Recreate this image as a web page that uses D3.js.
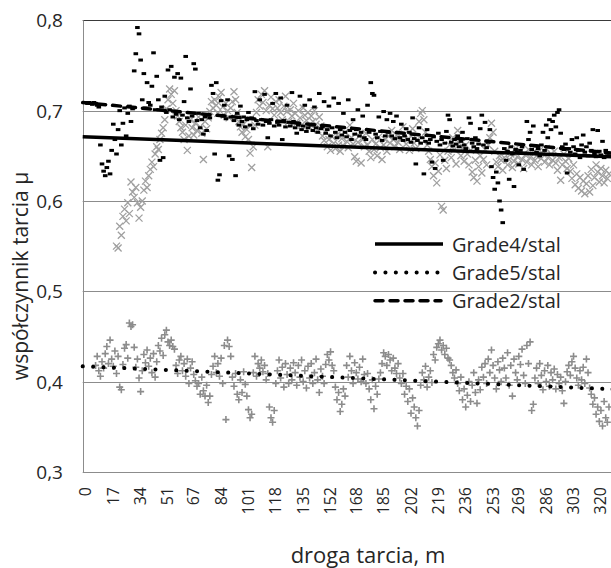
<!DOCTYPE html>
<html>
<head>
<meta charset="utf-8">
<script src="https://cdn.jsdelivr.net/npm/d3@7"></script>
<style>
  body { margin: 0; background: #fff; }
  text { font-family: "Open Sans", sans-serif; fill: #262626; }
</style>
</head>
<body>
<div id="chart"></div>
<script>
// droga tarcia [m], one sample per metre
var droga = [
  0,1,2,3,4,5,6,7,8,9,10,11,12,13,14,15,16,17,18,19,20,21,22,23,24,25,26,27,28,29,
  30,31,32,33,34,35,36,37,38,39,40,41,42,43,44,45,46,47,48,49,50,51,52,53,54,55,56,57,58,59,
  60,61,62,63,64,65,66,67,68,69,70,71,72,73,74,75,76,77,78,79,80,81,82,83,84,85,86,87,88,89,
  90,91,92,93,94,95,96,97,98,99,100,101,102,103,104,105,106,107,108,109,110,111,112,113,114,115,116,117,118,119,
  120,121,122,123,124,125,126,127,128,129,130,131,132,133,134,135,136,137,138,139,140,141,142,143,144,145,146,147,148,149,
  150,151,152,153,154,155,156,157,158,159,160,161,162,163,164,165,166,167,168,169,170,171,172,173,174,175,176,177,178,179,
  180,181,182,183,184,185,186,187,188,189,190,191,192,193,194,195,196,197,198,199,200,201,202,203,204,205,206,207,208,209,
  210,211,212,213,214,215,216,217,218,219,220,221,222,223,224,225,226,227,228,229,230,231,232,233,234,235,236,237,238,239,
  240,241,242,243,244,245,246,247,248,249,250,251,252,253,254,255,256,257,258,259,260,261,262,263,264,265,266,267,268,269,
  270,271,272,273,274,275,276,277,278,279,280,281,282,283,284,285,286,287,288,289,290,291,292,293,294,295,296,297,298,299,
  300,301,302,303,304,305,306,307,308,309,310,311,312,313,314,315,316,317,318,319,320,321,322,323,324,325
];

var grade4 = [
  null,null,null,null,null,null,null,null,null,null,
  null,null,null,null,null,null,null,null,null,0.550,
  0.548,0.572,0.562,0.583,0.591,0.578,0.598,0.586,0.621,0.610,
  0.604,0.615,0.598,0.581,0.593,0.600,0.612,0.622,0.615,0.628,
  0.635,0.643,0.638,0.652,0.660,0.657,0.668,0.675,0.681,0.690,
  0.702,0.712,0.724,0.718,0.708,0.722,0.700,0.694,0.688,0.681,
  0.676,0.668,0.684,0.656,0.672,0.690,0.681,0.673,0.686,0.678,
  0.693,0.682,0.675,0.646,0.688,0.680,0.692,0.699,0.710,0.703,
  0.712,0.706,0.697,0.715,0.720,0.704,0.695,0.708,0.700,0.692,
  0.703,0.710,0.721,0.712,0.698,0.688,0.682,0.676,0.685,0.671,
  0.679,0.668,0.653,0.637,0.660,0.684,0.698,0.712,0.705,0.718,
  0.709,0.722,0.700,0.660,0.706,0.715,0.702,0.695,0.710,0.703,
  0.712,0.698,0.690,0.705,0.716,0.699,0.688,0.701,0.694,0.708,
  0.697,0.686,0.700,0.692,0.684,0.703,0.695,0.689,0.698,0.682,
  0.694,0.688,0.700,0.685,0.679,0.693,0.683,0.672,0.667,0.676,
  0.660,0.668,0.656,0.671,0.664,0.658,0.673,0.662,0.655,0.669,
  0.661,0.676,0.666,0.659,0.684,0.670,0.663,0.649,0.644,0.665,
  0.672,0.642,0.668,0.660,0.675,0.662,0.655,0.648,0.668,0.657,
  0.663,0.650,0.671,0.659,0.646,0.662,0.668,0.655,0.672,0.664,
  0.678,0.668,0.660,0.673,0.665,0.657,0.670,0.682,0.674,0.663,
  0.668,0.656,0.672,0.680,0.664,0.658,0.668,0.688,0.697,0.700,
  0.690,0.676,0.662,0.655,0.646,0.638,0.628,0.642,0.620,0.633,
  0.651,0.594,0.590,0.645,0.636,0.655,0.662,0.648,0.670,0.657,
  0.641,0.678,0.664,0.650,0.658,0.644,0.662,0.652,0.640,0.656,
  0.632,0.626,0.645,0.622,0.638,0.650,0.631,0.646,0.657,0.640,
  0.662,0.670,0.686,0.676,0.655,0.643,0.638,0.650,0.645,0.634,
  0.648,0.655,0.640,0.646,0.652,0.637,0.644,0.658,0.649,0.641,
  0.655,0.646,0.636,0.651,0.643,0.657,0.648,0.640,0.654,0.645,
  0.650,0.638,0.656,0.647,0.652,0.643,0.658,0.648,0.640,0.652,
  0.645,0.655,0.642,0.634,0.648,0.623,0.640,0.652,0.644,0.636,
  0.647,0.633,0.625,0.640,0.618,0.630,0.614,0.626,0.611,0.622,
  0.608,0.619,0.628,0.610,0.635,0.617,0.626,0.640,0.632,0.621,
  0.636,0.628,0.620,0.634,0.625,0.630
];

var grade5 = [
  null,null,null,null,null,null,0.418,0.428,0.412,0.406,
  0.422,0.415,0.431,0.439,0.420,0.446,0.425,0.417,0.434,0.409,
  0.428,0.394,0.391,0.419,0.437,0.441,0.426,0.465,0.461,0.463,
  0.438,0.416,0.425,0.404,0.389,0.412,0.430,0.421,0.435,0.417,
  0.426,0.410,0.431,0.405,0.422,0.440,0.434,0.448,0.429,0.452,
  0.457,0.444,0.440,0.446,0.439,0.436,0.418,0.409,0.424,0.428,
  0.412,0.420,0.406,0.425,0.398,0.415,0.422,0.408,0.401,0.395,
  0.398,0.386,0.405,0.390,0.384,0.396,0.377,0.384,0.408,0.417,
  0.428,0.410,0.420,0.406,0.426,0.398,0.440,0.358,0.446,0.439,
  0.428,0.405,0.395,0.409,0.386,0.380,0.402,0.388,0.411,0.397,
  0.384,0.369,0.360,0.364,0.410,0.428,0.406,0.420,0.415,0.424,
  0.411,0.418,0.402,0.409,0.372,0.360,0.355,0.368,0.398,0.412,
  0.424,0.404,0.416,0.394,0.420,0.408,0.398,0.415,0.402,0.421,
  0.410,0.396,0.418,0.405,0.424,0.400,0.412,0.393,0.417,0.404,
  0.420,0.398,0.410,0.425,0.402,0.388,0.414,0.406,0.398,0.419,
  0.430,0.424,0.433,0.418,0.412,0.394,0.380,0.388,0.367,0.375,
  0.392,0.384,0.418,0.405,0.428,0.412,0.398,0.421,0.410,0.403,
  0.416,0.400,0.425,0.408,0.398,0.409,0.392,0.380,0.402,0.370,
  0.395,0.386,0.403,0.410,0.420,0.432,0.428,0.418,0.430,0.424,
  0.412,0.426,0.415,0.409,0.420,0.404,0.398,0.409,0.386,0.395,
  0.378,0.392,0.365,0.382,0.372,0.360,0.351,0.368,0.396,0.410,
  0.402,0.417,0.394,0.405,0.412,0.399,0.430,0.424,0.438,0.442,
  0.446,0.435,0.440,0.430,0.437,0.426,0.424,0.418,0.410,0.404,
  0.413,0.398,0.390,0.405,0.380,0.392,0.372,0.385,0.400,0.378,
  0.396,0.410,0.388,0.376,0.402,0.391,0.416,0.405,0.420,0.398,
  0.425,0.410,0.435,0.418,0.404,0.392,0.422,0.413,0.400,0.426,
  0.415,0.404,0.432,0.396,0.418,0.384,0.425,0.410,0.402,0.428,
  0.419,0.436,0.407,0.398,0.440,0.420,0.444,0.368,0.375,0.404,
  0.415,0.398,0.420,0.407,0.391,0.412,0.400,0.418,0.395,0.410,
  0.402,0.414,0.392,0.408,0.398,0.405,0.390,0.376,0.400,0.411,
  0.418,0.407,0.422,0.428,0.415,0.404,0.396,0.412,0.402,0.416,
  0.398,0.425,0.410,0.393,0.386,0.375,0.382,0.364,0.372,0.356,
  0.368,0.351,0.378,0.360,0.355,0.372
];

var grade2 = [
  0.709,0.708,0.709,0.708,0.707,0.709,0.708,0.706,0.704,0.662,
  0.641,0.633,0.628,0.637,0.644,0.630,0.656,0.685,0.668,0.652,
  0.679,0.700,0.662,0.686,0.703,0.672,0.697,0.705,0.688,0.702,
  0.744,0.763,0.792,0.785,0.756,0.712,0.741,0.703,0.731,0.709,
  0.706,0.727,0.764,0.701,0.738,0.712,0.645,0.704,0.648,0.716,
  0.698,0.745,0.701,0.749,0.693,0.737,0.696,0.741,0.690,0.736,
  0.695,0.710,0.760,0.692,0.688,0.724,0.694,0.752,0.746,0.689,
  0.697,0.681,0.690,0.674,0.693,0.678,0.695,0.692,0.728,0.719,
  0.652,0.731,0.623,0.629,0.711,0.694,0.706,0.691,0.712,0.650,
  0.693,0.646,0.689,0.628,0.697,0.684,0.705,0.688,0.693,0.682,
  0.690,0.698,0.684,0.692,0.680,0.721,0.689,0.685,0.712,0.690,
  0.684,0.718,0.688,0.670,0.686,0.690,0.708,0.683,0.719,0.687,
  0.684,0.714,0.668,0.689,0.682,0.706,0.687,0.683,0.720,0.688,
  0.681,0.675,0.684,0.716,0.679,0.683,0.706,0.677,0.681,0.712,
  0.684,0.678,0.704,0.681,0.676,0.719,0.680,0.682,0.710,0.675,
  0.679,0.705,0.672,0.681,0.714,0.676,0.670,0.708,0.679,0.673,
  0.697,0.676,0.671,0.712,0.678,0.668,0.690,0.674,0.679,0.701,
  0.672,0.676,0.694,0.670,0.668,0.706,0.676,0.731,0.719,0.717,
  0.674,0.670,0.693,0.677,0.667,0.699,0.672,0.690,0.676,0.697,
  0.672,0.688,0.669,0.694,0.676,0.670,0.685,0.667,0.672,0.680,
  0.668,0.676,0.665,0.692,0.669,0.641,0.667,0.681,0.664,0.670,
  0.630,0.666,0.679,0.664,0.668,0.643,0.671,0.636,0.666,0.675,
  0.662,0.668,0.645,0.664,0.677,0.695,0.690,0.665,0.661,0.668,
  0.663,0.672,0.660,0.666,0.676,0.662,0.658,0.669,0.692,0.686,
  0.664,0.660,0.670,0.658,0.663,0.680,0.695,0.662,0.687,0.659,
  0.665,0.679,0.638,0.626,0.613,0.632,0.620,0.600,0.590,0.576,
  0.658,0.645,0.655,0.624,0.660,0.652,0.616,0.657,0.654,0.640,
  0.656,0.660,0.635,0.653,0.688,0.668,0.676,0.657,0.683,0.661,
  0.654,0.658,0.650,0.662,0.676,0.656,0.684,0.670,0.690,0.679,
  0.688,0.695,0.682,0.698,0.701,0.675,0.660,0.657,0.663,0.631,
  0.658,0.654,0.668,0.660,0.652,0.670,0.656,0.648,0.662,0.673,
  0.654,0.660,0.650,0.664,0.656,0.679,0.652,0.649,0.678,0.655,
  0.651,0.666,0.648,0.656,0.653,0.650
];

// linear trend lines (end points over the plotted range)
var trendDroga = [-2, 330];
var trendGrade4 = [0.671, 0.6488];
var trendGrade5 = [0.417, 0.3914];
var trendGrade2 = [0.709, 0.6525];

var yTicks = [0.3, 0.4, 0.5, 0.6, 0.7, 0.8];
var xTickLabels = [0, 17, 34, 51, 67, 84, 101, 118, 135, 152, 168, 185, 202, 219, 236, 253, 269, 286, 303, 320];
var legendNames = ["Grade4/stal", "Grade5/stal", "Grade2/stal"];

var w = 611, h = 568;
var plotLeft = 82.7, plotTop = 20.3, plotBottom = 472, plotRight = 617;

var svg = d3.select("#chart").append("svg")
    .attr("width", w)
    .attr("height", h)
    .style("display", "block");

var x = d3.scaleLinear().domain([trendDroga[0], trendDroga[1]]).range([plotLeft, plotRight]);
var y = d3.scaleLinear().domain([0.3, 0.8]).range([plotBottom, plotTop]);
var fmt = function(d) { return d3.format(".1f")(d).replace(".", ","); };

// gridlines
svg.append("g").selectAll("line")
    .data(yTicks.filter(function(d) { return d > 0.3 && d < 0.8; }))
    .enter().append("line")
      .attr("x1", plotLeft).attr("x2", w)
      .attr("y1", function(d) { return Math.round(y(d)) + 0.5; })
      .attr("y2", function(d) { return Math.round(y(d)) + 0.5; })
      .attr("stroke", "#8c8c8c").attr("stroke-width", 1);

// plot border
svg.append("line").attr("x1", plotLeft).attr("x2", w)
    .attr("y1", Math.round(plotTop) + 0.5).attr("y2", Math.round(plotTop) + 0.5)
    .attr("stroke", "#3a3a3a");
svg.append("line").attr("x1", Math.round(plotLeft) + 0.5).attr("x2", Math.round(plotLeft) + 0.5)
    .attr("y1", plotTop).attr("y2", plotBottom)
    .attr("stroke", "#8c8c8c");
svg.append("line").attr("x1", plotLeft).attr("x2", w)
    .attr("y1", Math.round(plotBottom) + 0.5).attr("y2", Math.round(plotBottom) + 0.5)
    .attr("stroke", "#8c8c8c");

// y tick labels
svg.append("g").selectAll("text")
    .data(yTicks)
    .enter().append("text")
      .attr("x", 63)
      .attr("y", function(d) { return y(d) + 7; })
      .attr("text-anchor", "end")
      .style("font-size", "19px")
      .text(fmt);

// x tick labels (rotated)
svg.append("g").selectAll("text")
    .data(xTickLabels)
    .enter().append("text")
      .attr("transform", function(d) { return "translate(" + (x(d) + 5.5) + ",487) rotate(-90)"; })
      .attr("text-anchor", "end")
      .style("font-size", "16px")
      .text(function(d) { return d; });

// axis titles
svg.append("text")
    .attr("transform", "translate(28,276) rotate(-90)")
    .attr("text-anchor", "middle")
    .style("font-size", "21px")
    .text("współczynnik tarcia μ");

svg.append("text")
    .attr("x", 368).attr("y", 563)
    .attr("text-anchor", "middle")
    .style("font-size", "22px")
    .text("droga tarcia, m");

var plot = svg.append("g");

function points(vals) {
  return droga.map(function(d, i) { return {m: d, v: vals[i]}; })
    .filter(function(p) { return p.v != null; });
}

// Grade4: grey crosses
plot.append("g").selectAll("path")
    .data(points(grade4))
    .enter().append("path")
      .attr("transform", function(p) { return "translate(" + x(p.m) + "," + y(p.v) + ")"; })
      .attr("d", "M-3.5,-3.5L3.5,3.5M-3.5,3.5L3.5,-3.5")
      .attr("stroke", "#a0a0a0").attr("stroke-width", 1.3).attr("fill", "none");

// Grade5: grey plus signs
plot.append("g").selectAll("path")
    .data(points(grade5))
    .enter().append("path")
      .attr("transform", function(p) { return "translate(" + x(p.m) + "," + y(p.v) + ")"; })
      .attr("d", "M-3.5,0H3.5M0,-3.5V3.5")
      .attr("stroke", "#8c8c8c").attr("stroke-width", 1.6).attr("fill", "none");

// Grade2: black dashes
plot.append("g").selectAll("rect")
    .data(points(grade2))
    .enter().append("rect")
      .attr("x", function(p) { return x(p.m) - 2.3; })
      .attr("y", function(p) { return y(p.v) - 1.5; })
      .attr("width", 4.6).attr("height", 3)
      .attr("fill", "#000");

// trend lines
var styles = [
  {vals: trendGrade4, dash: null, cap: "butt", width: 3.5},
  {vals: trendGrade5, dash: "0.1,10.3", cap: "round", width: 4},
  {vals: trendGrade2, dash: "8,7", cap: "round", width: 3.5}
];
var line = d3.line().x(function(d) { return x(d[0]); }).y(function(d) { return y(d[1]); });

styles.forEach(function(s) {
  plot.append("path")
    .attr("d", line(d3.zip(trendDroga, s.vals)))
    .attr("stroke", "#000").attr("stroke-width", s.width)
    .attr("stroke-dasharray", s.dash)
    .attr("stroke-linecap", s.cap)
    .attr("fill", "none");
});

// legend
var lg = svg.append("g");
legendNames.forEach(function(name, i) {
  var by = 251.5 + i * 28.4;
  lg.append("line")
    .attr("x1", 375).attr("x2", i === 0 ? 443 : 441)
    .attr("y1", by - 7.5).attr("y2", by - 7.5)
    .attr("stroke", "#000").attr("stroke-width", styles[i].width)
    .attr("stroke-dasharray", styles[i].dash)
    .attr("stroke-linecap", styles[i].cap);
  lg.append("text")
    .attr("x", 452).attr("y", by)
    .style("font-size", "20px")
    .text(name);
});
</script>
</body>
</html>
